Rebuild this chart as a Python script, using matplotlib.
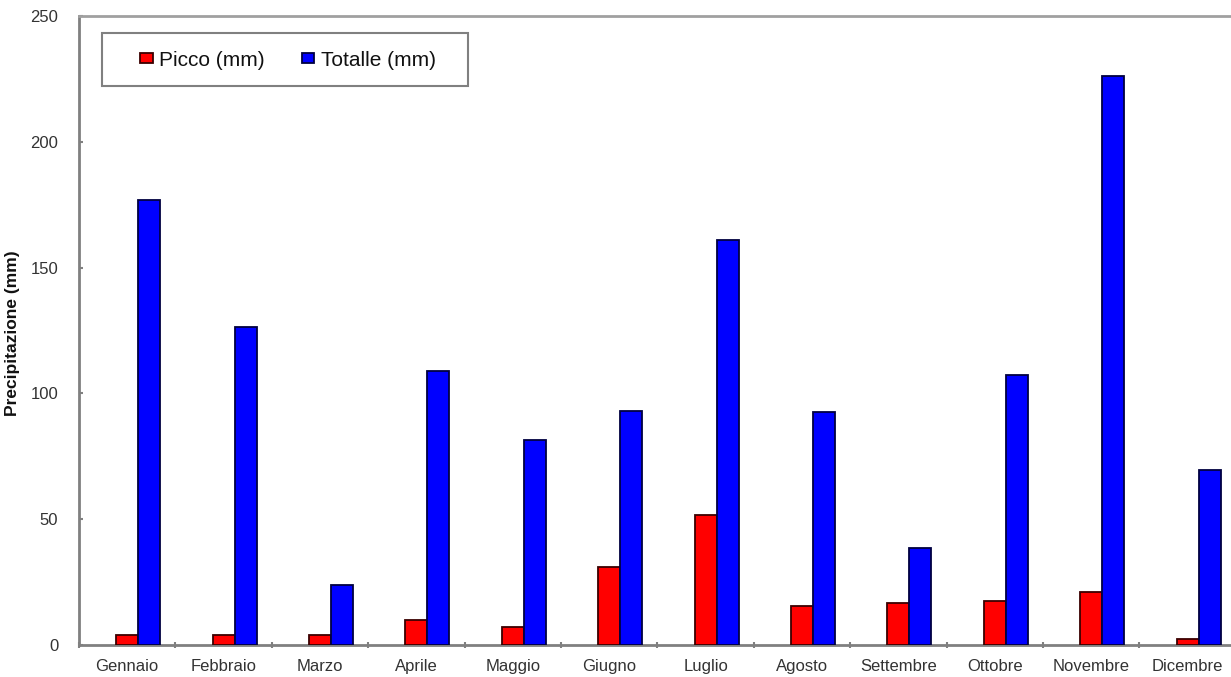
import matplotlib
matplotlib.use("Agg")
import matplotlib.pyplot as plt
from matplotlib.patches import Rectangle
import numpy as np

months = ["Gennaio", "Febbraio", "Marzo", "Aprile", "Maggio", "Giugno",
          "Luglio", "Agosto", "Settembre", "Ottobre", "Novembre", "Dicembre"]
picco = [4, 4, 4, 10, 7, 31, 51.5, 15.5, 16.5, 17.5, 21, 2.5]
totale = [177, 126.5, 24, 109, 81.5, 93, 161, 92.5, 38.5, 107.5, 226, 69.5]
y_ticks = [0, 50, 100, 150, 200, 250]

plt.rcParams["font.family"] = ["Liberation Sans", "DejaVu Sans"]

W, H = 1231, 677
fig = plt.figure(figsize=(W / 100, H / 100), dpi=100)
left, bottom, top = 79, 645, 16
axw = 12 * 96.4
axh = bottom - top
ax = fig.add_axes([left / W, (H - bottom) / H, axw / W, axh / H])

x = np.arange(len(months)) + 0.5
bw = 0.228
ax.bar(x, picco, width=bw, color="#ff0000", edgecolor="#3a0000",
       linewidth=1.3, label="Picco (mm)", zorder=3)
ax.bar(x + bw, totale, width=bw, color="#0000ff", edgecolor="#000040",
       linewidth=1.3, label="Totalle (mm)", zorder=3)

ax.set_xlim(0, 12)
ax.set_ylim(0, 250)
ax.set_yticks(y_ticks)
ax.set_xticks(x)
ax.set_xticklabels(months)
ax.set_xticks(np.arange(0, 13), minor=True)

grey = "#808080"
for side in ("left", "bottom", "top", "right"):
    ax.spines[side].set_color(grey)
    ax.spines[side].set_linewidth(2)
ax.spines["top"].set_color("#a0a0a0")

ax.tick_params(axis="y", direction="in", length=3, width=1.5, color=grey,
               pad=15, labelsize=12, labelcolor="#333333")
ax.tick_params(axis="x", which="major", length=0, pad=10,
               labelsize=12, labelcolor="#333333")
ax.tick_params(axis="x", which="minor", direction="inout", length=4,
               width=1.5, color=grey)

ax.set_ylabel("Precipitazione (mm)", fontsize=12.5, fontweight="bold",
              color="#111111")
ax.yaxis.set_label_coords(-59 / axw, (bottom - 333) / axh)

# legend entries without their own frame, boxed by a separate rectangle
leg = fig.legend(*ax.get_legend_handles_labels(), loc="center left",
                 bbox_to_anchor=(140 / W, (H - 60) / H),
                 ncol=2, frameon=False, fontsize=15,
                 handlelength=0.6, handleheight=0.4, handletextpad=0.3,
                 columnspacing=1.8, borderpad=0, borderaxespad=0)
for t in leg.get_texts():
    t.set_color("#111111")
fig.patches.append(Rectangle((102 / W, (H - 86) / H), (468 - 102) / W,
                             (86 - 33) / H, transform=fig.transFigure,
                             facecolor="white", edgecolor=grey,
                             linewidth=1.5, zorder=0))

fig.savefig("out.png", dpi=100)
